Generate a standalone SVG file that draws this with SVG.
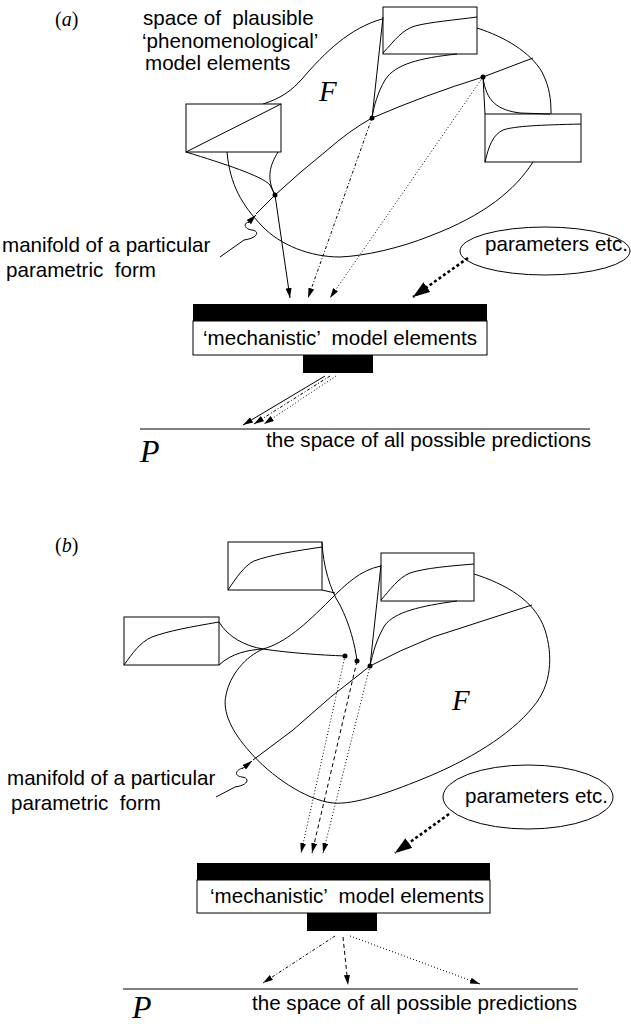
<svg xmlns="http://www.w3.org/2000/svg" width="631" height="1024" viewBox="0 0 631 1024" xml:space="preserve">
<defs>
<marker id="ah" viewBox="0 0 10 6" refX="10" refY="3" markerWidth="10" markerHeight="6" markerUnits="userSpaceOnUse" orient="auto"><path d="M0,0 L10,3 L0,6 z" fill="#000"/></marker>
<marker id="ahb" viewBox="0 0 10 7" refX="10" refY="3.5" markerWidth="17" markerHeight="12" markerUnits="userSpaceOnUse" orient="auto"><path d="M0,0 L10,3.5 L0,7 z" fill="#000"/></marker>
</defs>
<style>
.ln{fill:none;stroke:#000;stroke-width:1}
.dot{stroke-dasharray:1 2.2}
.dash{stroke-dasharray:4 3}
.dd{stroke-dasharray:3 2 1 2}
.thk{fill:none;stroke:#000;stroke-width:2.6;stroke-dasharray:3 2.5}
.lbl{font-family:"Liberation Sans",Arial,sans-serif;font-size:20.6px;fill:#000;white-space:pre}
.ser{font-family:"Liberation Serif","Times New Roman",serif;fill:#000;white-space:pre}
.it{font-style:italic}
.box{fill:#fff;stroke:#000;stroke-width:1}
.blk{fill:#000}
.dt{fill:#000}
</style>

<!-- ================= PANEL A ================= -->
<g id="a-labels">
<text class="ser" x="55" y="26" font-size="20">(<tspan class="it">a</tspan>)</text>
<text class="lbl" x="143" y="25">space of  plausible</text>
<text class="lbl" x="142" y="48">‘phenomenological’</text>
<text class="lbl" x="145" y="70">model elements</text>
<text class="ser it" x="319" y="101" font-size="29">F</text>
<text class="lbl" x="2" y="252">manifold of a particular</text>
<text class="lbl" x="6" y="277">parametric  form</text>
</g>

<g id="a-region">
<path class="ln" d="M263,104 C282,98 292,90 302,79 C325,52 350,28 382,19"/>
<path class="ln" d="M477,28 C505,37 530,52 542,72 C550,88 551,100 551,114"/>
<path class="ln" d="M533,162 C515,190 485,215 430,236 C400,248 365,256 340,257 C310,257 280,245 262,226 C242,205 230,185 227,152"/>
</g>

<g id="a-manifold">
<path class="ln" d="M256,214 L275,195 Q300,172 325,152 Q350,130 372,118 Q425,95 483,77 L533,58"/>
<path class="ln" d="M220,257 L244,240 C258,238 260,231 252,230 C244,229 243,223 249,222"/>
<path class="ln" d="M248,223 L256,215" marker-end="url(#ah)"/>
<circle class="dt" cx="275" cy="195" r="2.5"/>
<circle class="dt" cx="372" cy="118" r="2.5"/>
<circle class="dt" cx="483" cy="77" r="2.5"/>
</g>

<g id="a-box1">
<rect class="box" x="186" y="104" width="95" height="48"/>
<path class="ln" d="M186,152 L281,104"/>
<path class="ln" d="M186,152 C225,164 262,176 270,185 L275,195"/>
<path class="ln" d="M278,152 C270,165 266,178 275,195"/>
</g>

<g id="a-box2">
<rect class="box" x="383" y="7" width="94" height="47"/>
<path class="ln" d="M383,53 C395,40 402,30 415,26 C430,22 455,20 477,17"/>
<path class="ln" d="M383,17 L372,118"/>
<path class="ln" d="M457,54 C420,58 395,64 385,80 C378,92 374,105 372,118"/>
</g>

<g id="a-box3">
<rect class="box" x="485" y="114" width="96" height="48"/>
<path class="ln" d="M485,162 C489,145 493,135 503,130 C515,126 540,125 581,124"/>
<path class="ln" d="M483,77 L485,114"/>
<path class="ln" d="M483,77 C486,102 498,110 520,113 L550,114"/>
</g>

<g id="a-params">
<ellipse class="ln" cx="545" cy="251" rx="85" ry="24"/>
<text class="lbl" x="485" y="251">parameters etc.</text>
</g>

<g id="a-mech">
<rect class="blk" x="193" y="304" width="294" height="17"/>
<rect class="box" x="193" y="321" width="294" height="34"/>
<text class="lbl" x="203" y="345">‘mechanistic’  model elements</text>
<rect class="blk" x="303" y="355" width="70" height="18"/>
</g>

<g id="a-P">
<path class="ln" d="M140,429 L590,429"/>
<text class="ser it" x="140" y="462" font-size="32">P</text>
<text class="lbl" x="266" y="447">the space of all possible predictions</text>
</g>

<g id="a-connectors">
<path class="ln" d="M275,195 L290,298" marker-end="url(#ah)"/>
<path class="ln dd" d="M372,118 L308,298" marker-end="url(#ah)"/>
<path class="ln dot" d="M483,77 L330,298" marker-end="url(#ah)"/>
<path class="thk" d="M468,258 L413,297" marker-end="url(#ahb)"/>
<path class="ln" d="M325,376 L243,425" marker-end="url(#ah)"/>
<path class="ln dd" d="M330,376 L254,424" marker-end="url(#ah)"/>
<path class="ln dot" d="M336,376 L264,424" marker-end="url(#ah)"/>
</g>

<!-- ================= PANEL B ================= -->
<g id="b-labels">
<text class="ser" x="55" y="552" font-size="20">(<tspan class="it">b</tspan>)</text>
<text class="ser it" x="452" y="710" font-size="29">F</text>
<text class="lbl" x="7" y="785">manifold of a particular</text>
<text class="lbl" x="11" y="810">parametric  form</text>
</g>

<g id="b-region">
<path class="ln" d="M219,665 C232,653 248,650 263,649 C285,643 305,625 330,600 C345,585 360,570 381,566"/>
<path class="ln" d="M474,574 C505,584 535,600 545,630 C553,655 552,685 533,707 C510,735 470,760 420,780 C390,792 355,805 333,803 C305,800 270,775 250,752 C232,732 222,712 226,695 C230,675 245,657 263,649"/>
</g>

<g id="b-manifold">
<path class="ln" d="M253,760 L293,730 Q330,696 370,666 Q400,650 433,637 L532,605"/>
<path class="ln" d="M216,797 L235,787 C249,785 250,778 242,777 C234,776 235,770 243,768"/>
<path class="ln" d="M242,769 L252,761" marker-end="url(#ah)"/>
<circle class="dt" cx="345" cy="656" r="2.5"/>
<circle class="dt" cx="357" cy="661" r="2.5"/>
<circle class="dt" cx="370" cy="666" r="2.5"/>
</g>

<g id="b-boxA">
<rect class="box" x="228" y="542" width="94" height="48"/>
<path class="ln" d="M228,590 C236,578 244,566 254,561 C270,555 295,551 322,547"/>
<path class="ln" d="M322,542 C323,565 330,590 340,605 C350,625 355,645 357,661"/>
<path class="ln" d="M322,590 L335,593"/>
</g>

<g id="b-boxB">
<rect class="box" x="124" y="617" width="95" height="48"/>
<path class="ln" d="M124,665 C132,654 140,642 152,637 C168,631 190,627 219,622"/>
<path class="ln" d="M219,622 C228,637 245,646 263,649 C290,653 320,655 345,656"/>
</g>

<g id="b-boxC">
<rect class="box" x="381" y="553" width="93" height="48"/>
<path class="ln" d="M381,600 C390,590 398,578 410,573 C425,568 450,566 474,564"/>
<path class="ln" d="M381,565 L370,666"/>
<path class="ln" d="M457,601 C420,606 395,612 385,625 C377,638 373,652 370,666"/>
</g>

<g id="b-params">
<ellipse class="ln" cx="528" cy="797" rx="85" ry="32"/>
<text class="lbl" x="465" y="803">parameters etc.</text>
</g>

<g id="b-mech">
<rect class="blk" x="197" y="863" width="293" height="17"/>
<rect class="box" x="197" y="880" width="293" height="33"/>
<text class="lbl" x="210" y="903">‘mechanistic’  model elements</text>
<rect class="blk" x="307" y="913" width="70" height="18"/>
</g>

<g id="b-P">
<path class="ln" d="M123,989 L578,989"/>
<text class="ser it" x="132" y="1018" font-size="32">P</text>
<text class="lbl" x="252" y="1010">the space of all possible predictions</text>
</g>

<g id="b-connectors">
<path class="ln dot" d="M345,656 L301,853" marker-end="url(#ah)"/>
<path class="ln dash" d="M357,661 L312,853" marker-end="url(#ah)"/>
<path class="ln dot" d="M370,666 L323,853" marker-end="url(#ah)"/>
<path class="thk" d="M449,814 L395,853" marker-end="url(#ahb)"/>
<path class="ln dd" d="M335,936 L263,983" marker-end="url(#ah)"/>
<path class="ln dash" d="M343,937 L348,985" marker-end="url(#ah)"/>
<path class="ln dot" d="M350,936 L480,984" marker-end="url(#ah)"/>
</g>
</svg>
